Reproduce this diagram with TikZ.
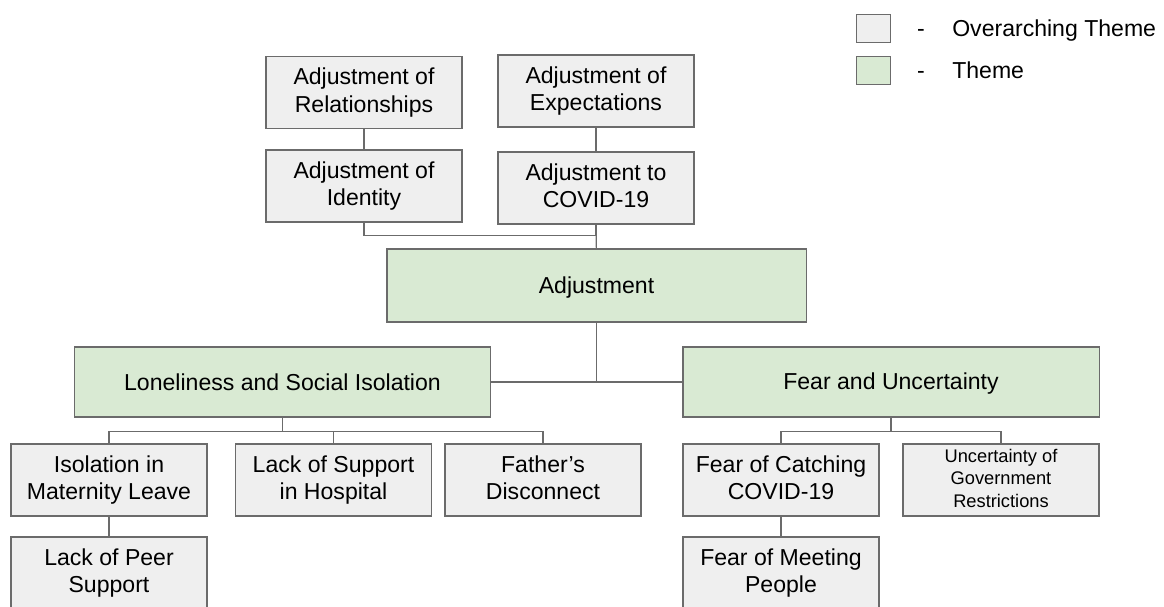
\documentclass[tikz,border=0pt]{standalone}
\usepackage{fontspec}
\setmainfont{Liberation Sans}
\definecolor{boxgrey}{HTML}{EFEFEF}
\definecolor{themegreen}{HTML}{D9EAD3}
\definecolor{edgegrey}{HTML}{6B6B6B}
\newcommand{\boxstrut}{\rule[-0.2em]{0pt}{1.1em}}
\tikzset{
    bodyfont/.style={font=\fontsize{16.4pt}{19.6pt}\selectfont, execute at begin node=\boxstrut, execute at end node=\boxstrut},
    overarching/.style={bodyfont, draw=edgegrey, fill=boxgrey, line width=0.8pt, minimum width=4.9cm, minimum height=1.8cm, align=center},
    theme/.style={overarching, fill=themegreen, minimum width=10.4cm, minimum height=1.75cm},
    link/.style={draw=edgegrey, line width=0.8pt},
    legendkey/.style={draw=edgegrey, line width=0.8pt, minimum width=0.83cm, minimum height=0.68cm}
}

\begin{document}
\begin{tikzpicture}[x=0.025cm, y=-0.025cm]
            \useasboundingbox (0,0) rectangle (1164,606);

            \node[overarching] (relation) at (364, 92.5) {Adjustment of\\Relationships};
            \node[overarching] (expect) at (596, 91) {Adjustment of\\Expectations};
            \node[overarching] (identity) at (364, 186) {Adjustment of\\Identity};
            \node[overarching] (covid) at (596, 188) {Adjustment to\\COVID-19};

            \node[theme, minimum width=10.475cm, minimum height=1.825cm] (adjust) at (596.5, 285.5) {Adjustment};
            \node[theme] (lonely) at (282.5, 382) {Loneliness and Social Isolation};
            \node[theme] (fear) at (891, 382) {Fear and Uncertainty};

            \node[overarching] (isolation) at (109, 480) {Isolation in\\Maternity Leave};
            \node[overarching] (support) at (333.5, 480) {Lack of Support\\in Hospital};
            \node[overarching] (father) at (543, 480) {Father’s\\Disconnect};
            \node[overarching] (peer) at (109, 573) {Lack of Peer\\Support};

            \node[overarching] (catching) at (781, 480) {Fear of Catching\\COVID-19};
            \node[overarching, font=\fontsize{13pt}{16.2pt}\selectfont] (govt) at (1001, 480) {Uncertainty of\\Government\\Restrictions};
            \node[overarching] (meeting) at (781, 573) {Fear of Meeting\\People};

            \draw[link] (relation) -- (identity);
            \draw[link] (expect) -- (covid);
            \draw[link] (identity.south) -- ++(0,13) -| (covid.south);
            \draw[link] (covid) -- (adjust);
            \draw[link] (adjust.south) -- (adjust.south |- lonely.east);
            \draw[link] (lonely.east) -- (fear.west);

            \draw[link] (lonely.south) -- ++(0,14) coordinate (lonelyfork);
            \draw[link] (isolation.north) |- (lonelyfork) -| (father.north);
            \draw[link] (support.north) -- (support.north |- lonelyfork);
            \draw[link] (isolation) -- (peer);

            \draw[link] (fear.south) -- ++(0,14) coordinate (fearfork);
            \draw[link] (catching.north) |- (fearfork) -| (govt.north);
            \draw[link] (catching) -- (meeting);

            \node[legendkey, fill=boxgrey] (keygrey) at (873.5, 28.5) {};
            \node[legendkey, fill=themegreen] (keygreen) at (873.5, 70.5) {};
            \node[bodyfont] (dashgrey) at (921, 28.5) {-};
            \node[bodyfont] (dashgreen) at (921, 70.5) {-};
            \node[bodyfont, anchor=west, inner xsep=0pt] (labelgrey) at (952, 28.5) {Overarching Theme};
            \node[bodyfont, anchor=west, inner xsep=0pt] (labelgreen) at (952, 70.5) {Theme};

        \end{tikzpicture}
\end{document}
